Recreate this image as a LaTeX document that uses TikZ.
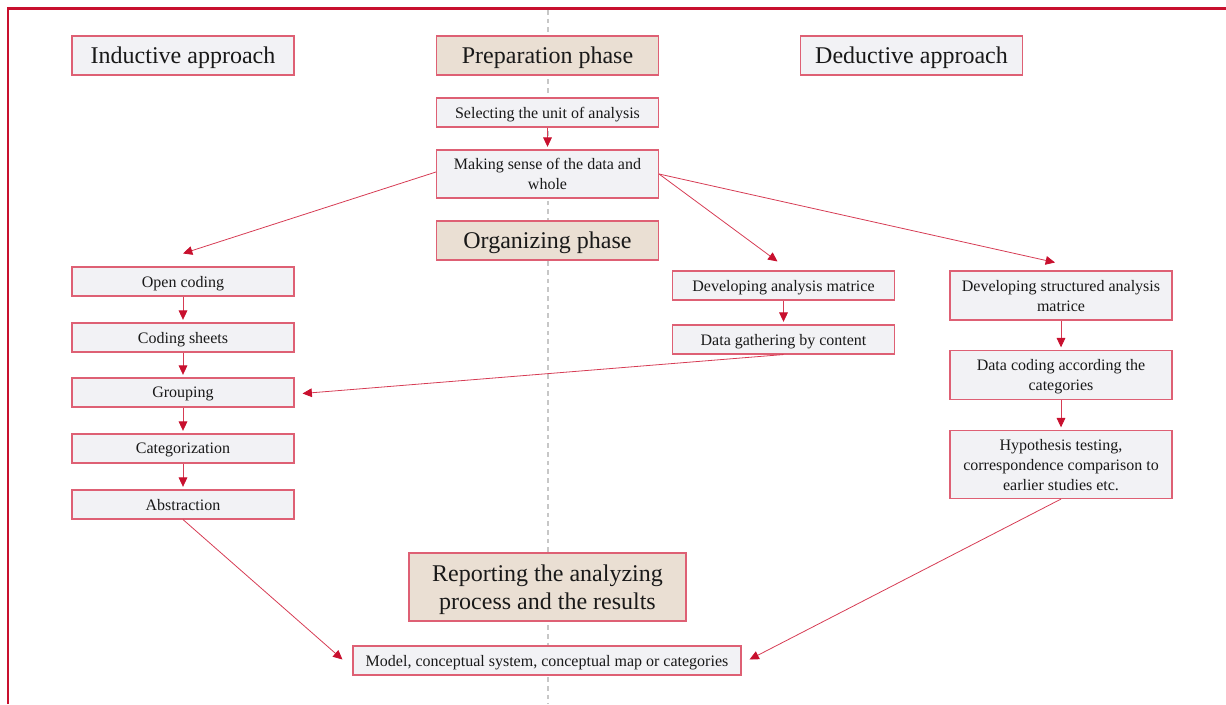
\documentclass[tikz,border=0pt]{standalone}
\usepackage{fontspec}
\setmainfont{Liberation Serif}
\usetikzlibrary{arrows.meta,calc}
\definecolor{frame}{RGB}{200,16,46}
\definecolor{boxline}{RGB}{222,96,116}
\definecolor{conn}{RGB}{214,60,84}
\definecolor{tipc}{RGB}{200,16,46}
\definecolor{boxfill}{RGB}{242,242,245}
\definecolor{beige}{RGB}{234,223,211}
\tikzset{
  base/.style={draw=boxline, line width=0.8pt, align=center, inner sep=0pt, text=black!90, text depth=0pt},
  bigbox/.style={base, fill=boxfill, minimum width=166.5pt, minimum height=29.25pt, font=\fontsize{18}{21}\selectfont},
  phasebox/.style={bigbox, fill=beige},
  smallbox/.style={base, fill=boxfill, minimum width=166.5pt, minimum height=21.75pt, font=\fontsize{12}{15}\selectfont},
  conn/.style={draw=conn, line width=0.6pt, -{Triangle[length=7pt,width=6.5pt,color=tipc]}, shorten >=2pt},
}
\begin{document}
\begin{tikzpicture}[x=0.75pt,y=-0.75pt]
\useasboundingbox (0,0) rectangle (1226,704);
% dashed separator
\draw[draw=black!22, line width=0.8pt, dash pattern=on 3.5pt off 3pt] (548,10) -- (548,704);
% frame
\draw[frame, line width=1.9pt] (8,704) -- (8,8.5) -- (1226,8.5);

% header boxes
\node[bigbox] (ind) at (183,55.5) {Inductive approach};
\node[phasebox] (prep) at (547.5,55.5) {Preparation phase};
\node[bigbox] (ded) at (911.5,55.5) {Deductive approach};

\node[smallbox] (sel) at (547.5,112.5) {Selecting the unit of analysis};
\node[smallbox, minimum height=36pt] (make) at (547.5,174) {Making sense of the data and\\whole};
\node[phasebox] (org) at (547.5,240.5) {Organizing phase};

% inductive column
\node[smallbox] (open) at (183,281.5) {Open coding};
\node[smallbox] (sheets) at (183,337.5) {Coding sheets};
\node[smallbox] (group) at (183,392.5) {Grouping};
\node[smallbox] (categ) at (183,448.5) {Categorization};
\node[smallbox] (abstr) at (183,504.5) {Abstraction};

% middle-right column
\node[smallbox] (devA) at (783.5,285.5) {Developing analysis matrice};
\node[smallbox] (gath) at (783.5,339.5) {Data gathering by content};

% deductive column
\node[smallbox, minimum height=36.75pt] (devS) at (1061,295.5) {Developing structured analysis\\matrice};
\node[smallbox, minimum height=36.75pt] (dcode) at (1061,375) {Data coding according the\\categories};
\node[smallbox, minimum height=51pt] (hyp) at (1061,464.5) {Hypothesis testing,\\correspondence comparison to\\earlier studies etc.};

% reporting
\node[base, fill=beige, minimum width=207.75pt, minimum height=51pt, font=\fontsize{18}{21}\selectfont] (report) at (547.5,587) {Reporting the analyzing\\process and the results};
\node[smallbox, minimum width=291pt] (model) at (547,660.5) {Model, conceptual system, conceptual map or categories};

% connectors
\draw[conn] (sel.south) -- (make.north);
\draw[conn, shorten >=0pt] ($(make.west)+(0,-2)$) -- ($(open.north)+(0,-13)$);
\draw[conn, shorten >=0pt] (make.east) -- ($(devA.north)+(-6,-9)$);
\draw[conn, shorten >=0pt] (make.east) -- ($(devS.north)+(-6,-8)$);

\draw[conn] (open.south) -- (sheets.north);
\draw[conn] (sheets.south) -- (group.north);
\draw[conn] (group.south) -- (categ.north);
\draw[conn] (categ.south) -- (abstr.north);

\draw[conn] (devA.south) -- (gath.north);
\draw[conn, shorten >=0pt] (gath.south) -- ($(group.east)+(8,1)$);

\draw[conn] (devS.south) -- (dcode.north);
\draw[conn] (dcode.south) -- (hyp.north);

\draw[conn, shorten >=0pt] (abstr.south) -- ($(model.west)+(-10,-1)$);
\draw[conn, shorten >=0pt] (hyp.south) -- ($(model.east)+(8,-1)$);
\end{tikzpicture}
\end{document}
